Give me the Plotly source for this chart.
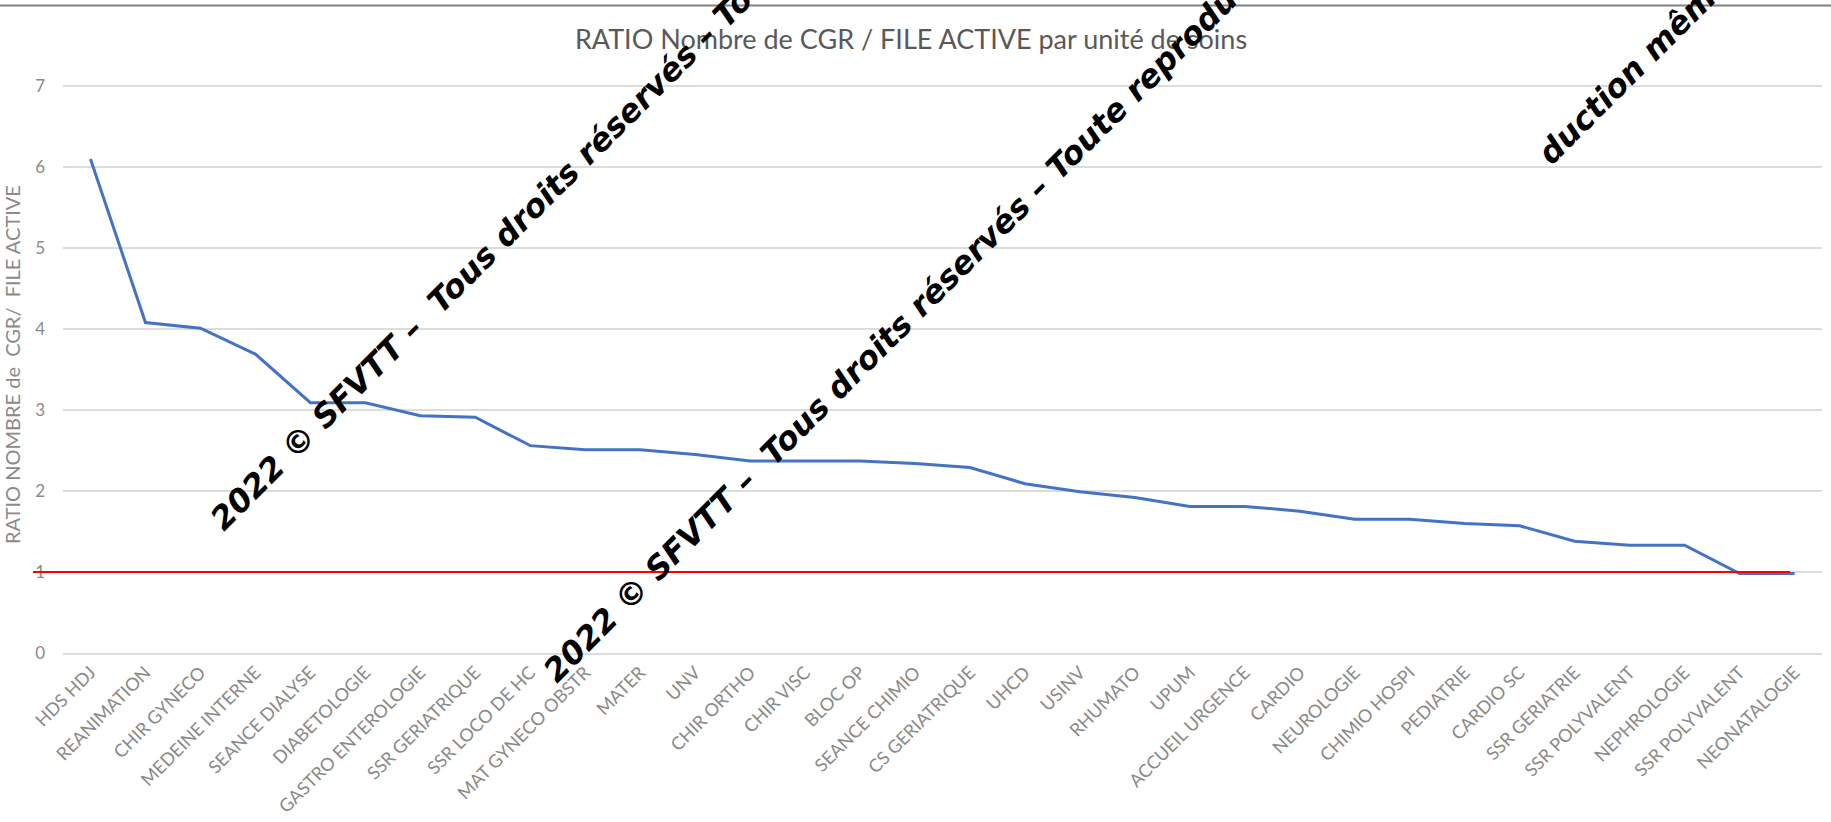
import plotly.graph_objects as go

categories = ["HDS HDJ", "REANIMATION", "CHIR GYNECO", "MEDEINE INTERNE", "SEANCE DIALYSE",
              "DIABETOLOGIE", "GASTRO ENTEROLOGIE", "SSR GERIATRIQUE", "SSR LOCO DE HC",
              "MAT GYNECO OBSTR", "MATER", "UNV", "CHIR ORTHO", "CHIR VISC", "BLOC OP",
              "SEANCE CHIMIO", "CS GERIATRIQUE", "UHCD", "USINV", "RHUMATO", "UPUM",
              "ACCUEIL URGENCE", "CARDIO", "NEUROLOGIE", "CHIMIO HOSPI", "PEDIATRIE",
              "CARDIO SC", "SSR GERIATRIE", "SSR POLYVALENT", "NEPHROLOGIE",
              "SSR POLYVALENT", "NEONATALOGIE"]
ratios = [6.10, 4.08, 4.01, 3.69, 3.09, 3.09, 2.93, 2.91, 2.56, 2.51, 2.51, 2.45, 2.37, 2.37,
          2.37, 2.34, 2.29, 2.09, 1.99, 1.92, 1.81, 1.81, 1.75, 1.65, 1.65, 1.60, 1.57, 1.38,
          1.33, 1.33, 0.98, 0.98]
y_ticks = [0, 1, 2, 3, 4, 5, 6, 7]
threshold = 1

title_text = "RATIO Nombre de CGR / FILE ACTIVE par unité de soins"
ytitle_text = "RATIO NOMBRE de  CGR/  FILE ACTIVE"
watermarks = ["2022 © SFVTT –  Tous droits réservés – Toute reproduction",
              "2022 © SFVTT –  Tous droits réservés – Toute reproduction",
              "duction même partielle"]

W, H = 1831, 822
L, R, T, B = 63, 9, 84, 169
PW, PH = W - L - R, H - T - B
y_max = 7 * PH / 567.0

def px(x):
    return (x - L) / PW

def py(y):
    return (H - B - y) / PH

positions = list(range(len(categories)))

fig = go.Figure()
fig.add_trace(go.Scatter(x=positions, y=ratios, mode="lines",
                         line=dict(color="#4472C4", width=3), showlegend=False,
                         hoverinfo="x+y"))

fig.add_shape(type="line", xref="paper", yref="y", x0=px(33), x1=px(1790),
              y0=threshold, y1=threshold, line=dict(color="#FF0000", width=2), layer="above")
fig.add_shape(type="line", xref="paper", yref="paper", x0=px(0), x1=px(W),
              y0=py(5.5), y1=py(5.5), line=dict(color="#808080", width=2))

wm_font = dict(family="DejaVu Sans", size=32, color="black", weight="bold", style="italic")
for txt, (sx, sy) in zip(watermarks, [(222, 534), (555, 686), (1549, 168)]):
    fig.add_annotation(text=txt, xref="paper", yref="paper",
                       x=px(sx - 21.7), y=py(sy + 6.6), xanchor="left", yanchor="bottom",
                       textangle=-45, showarrow=False, font=wm_font)

fig.add_annotation(text=ytitle_text, xref="paper", yref="paper", x=px(12), y=py(365),
                   xanchor="center", yanchor="middle", textangle=-90, showarrow=False,
                   font=dict(family="Lato", size=20, color="#8a8a8a"))

fig.update_layout(
    width=W, height=H,
    margin=dict(l=L, r=R, t=T, b=B, autoexpand=False),
    paper_bgcolor="white", plot_bgcolor="white",
    title=dict(text=title_text, x=911 / W, xanchor="center", y=1 - 40 / H, yanchor="middle",
               font=dict(family="Lato", size=27, color="#595959")),
    xaxis=dict(tickmode="array", tickvals=positions, ticktext=categories,
               range=[-0.5, len(categories) - 0.5], tickangle=-45, showgrid=False,
               zeroline=False, showline=True, linecolor="#dcdcdc", linewidth=2,
               tickfont=dict(family="Lato", size=18, color="#8a8a8a"), automargin=False),
    yaxis=dict(tickmode="array", tickvals=y_ticks, range=[0, y_max], showgrid=True,
               gridcolor="#dcdcdc", gridwidth=2, zeroline=False, showline=False,
               ticklabelstandoff=17,
               tickfont=dict(family="Lato", size=17, color="#8a8a8a"), automargin=False),
)

fig.write_html("out.html", config={"displayModeBar": False},
               post_script="document.body.style.margin='0';")
